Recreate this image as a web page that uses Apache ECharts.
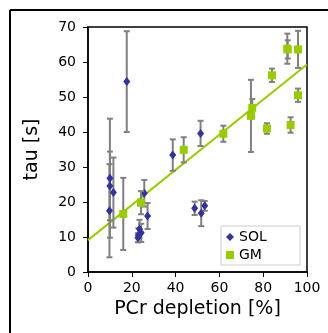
<!DOCTYPE html>
<html>
<head>
<meta charset="utf-8">
<script src="https://cdn.jsdelivr.net/npm/echarts@6/dist/echarts.min.js"></script>
<style>
html,body{margin:0;padding:0;background:#fff;}
#chart{width:328px;height:333px;}
</style>
</head>
<body>
<div id="chart"></div>
<script>
// SOL data
const solX   = [10.0, 10.0, 11.6, 9.8, 17.7, 23.5, 24.3, 23.0, 22.8, 25.7, 27.2, 38.7, 48.7, 51.4, 51.7, 53.3];
const solY   = [26.8, 24.6, 22.7, 17.5, 54.4, 12.3, 11.2, 10.5, 9.8, 22.5, 16.0, 33.4, 18.2, 39.6, 16.8, 18.9];
const solErr = [17.0, 9.8, 10.0, 13.3, 14.4, 2.6, 2.6, 2.0, 1.3, 3.8, 3.7, 4.5, 1.9, 3.6, 3.7, 1.4];
// GM data
const gmX   = [16.1, 24.2, 43.7, 61.8, 74.4, 75.0, 81.7, 84.0, 91.0, 91.2, 92.5, 95.9, 95.9];
const gmY   = [16.6, 19.8, 34.9, 39.5, 44.6, 46.9, 41.0, 56.2, 63.8, 63.6, 42.0, 63.6, 50.5];
const gmErr = [10.3, 3.3, 3.6, 2.3, 10.3, 2.5, 1.5, 1.9, 4.3, 2.6, 2.2, 5.3, 1.9];
// linear fit
const fitX = [0, 100];
const fitY = [9.1, 59.3];

const SOL_COLOR = '#333399';
const GM_COLOR = '#99cc00';
const ERR_COLOR = '#808080';
const FONT = 'DejaVu Sans';

function errData(xs, ys, es) {
  return xs.map((x, i) => [x, ys[i] - es[i], ys[i] + es[i]]);
}
function pts(xs, ys) { return xs.map((x, i) => [x, ys[i]]); }

function renderErr(params, api) {
  const x = api.value(0);
  const lo = api.coord([x, api.value(1)]);
  const hi = api.coord([x, api.value(2)]);
  const cw = 3;
  const style = { stroke: ERR_COLOR, lineWidth: 2 };
  return {
    type: 'group',
    children: [
      { type: 'line', shape: { x1: lo[0], y1: lo[1], x2: hi[0], y2: hi[1] }, style },
      { type: 'line', shape: { x1: lo[0] - cw, y1: lo[1], x2: lo[0] + cw, y2: lo[1] }, style },
      { type: 'line', shape: { x1: hi[0] - cw, y1: hi[1], x2: hi[0] + cw, y2: hi[1] }, style }
    ]
  };
}

const chart = echarts.init(document.getElementById('chart'), null, { renderer: 'canvas' });
chart.setOption({
  animation: false,
  backgroundColor: '#fff',
  textStyle: { fontFamily: FONT },
  grid: { left: 88, right: 21, top: 27, bottom: 61, show: true, borderColor: '#000', borderWidth: 1.5, backgroundColor: 'transparent' },
  xAxis: {
    type: 'value', min: 0, max: 100, interval: 20,
    name: 'PCr depletion [%]', nameLocation: 'middle', nameGap: 27,
    nameTextStyle: { fontFamily: FONT, fontSize: 19, color: '#000' },
    axisLine: { show: true, lineStyle: { color: '#000', width: 1.5 } },
    axisTick: { show: true, length: 5, lineStyle: { color: '#000', width: 1 } },
    axisLabel: { fontFamily: FONT, fontSize: 14, color: '#000', margin: 9 },
    splitLine: { show: false }
  },
  yAxis: {
    type: 'value', min: 0, max: 70, interval: 10,
    name: 'tau [s]', nameLocation: 'middle', nameGap: 46,
    nameTextStyle: { fontFamily: FONT, fontSize: 19, color: '#000' },
    axisLine: { show: true, lineStyle: { color: '#000', width: 1.5 } },
    axisTick: { show: true, length: 5, lineStyle: { color: '#000', width: 1 } },
    axisLabel: { fontFamily: FONT, fontSize: 14, color: '#000', margin: 12 },
    splitLine: { show: false }
  },
  legend: {
    left: 221, top: 226,
    orient: 'vertical',
    padding: [3, 4, 2, 5],
    itemGap: 2,
    itemWidth: 8, itemHeight: 8,
    borderColor: '#cccccc', borderWidth: 1, backgroundColor: '#fff',
    textStyle: { fontFamily: FONT, fontSize: 14, color: '#000', width: 57, align: 'right', lineHeight: 16 },
    data: [
      { name: 'SOL', icon: 'diamond' },
      { name: 'GM', icon: 'rect' }
    ]
  },
  graphic: [
    { type: 'line', shape: { x1: 10, y1: 10, x2: 328, y2: 10 }, style: { stroke: '#000', lineWidth: 2 } },
    { type: 'line', shape: { x1: 10, y1: 10, x2: 10, y2: 333 }, style: { stroke: '#000', lineWidth: 2 } }
  ],
  series: [
    { name: 'fit', type: 'line', data: pts(fitX, fitY), symbol: 'none', lineStyle: { color: GM_COLOR, width: 2 }, z: 1, silent: true },
    { name: 'SOL err', type: 'custom', renderItem: renderErr, data: errData(solX, solY, solErr), z: 2, silent: true },
    { name: 'SOL', type: 'scatter', data: pts(solX, solY), symbol: 'diamond', symbolSize: [7, 9], itemStyle: { color: SOL_COLOR, opacity: 1 }, z: 3 },
    { name: 'GM err', type: 'custom', renderItem: renderErr, data: errData(gmX, gmY, gmErr), z: 4, silent: true },
    { name: 'GM', type: 'scatter', data: pts(gmX, gmY), symbol: 'rect', symbolSize: 8, itemStyle: { color: GM_COLOR, opacity: 1 }, z: 5 }
  ]
});
</script>
</body>
</html>
